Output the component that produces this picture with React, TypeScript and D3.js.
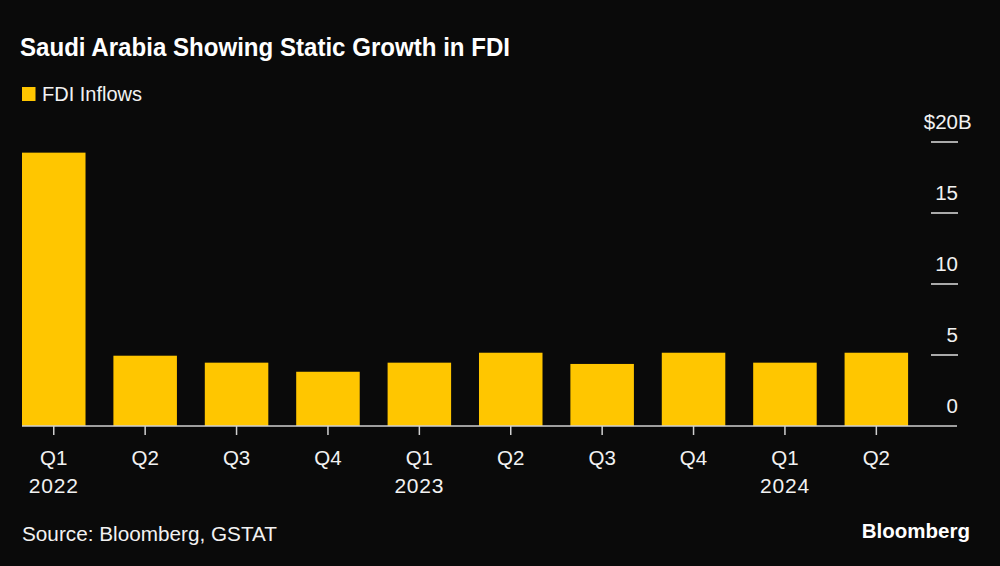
import React from "react";
import * as d3 from "d3";

const quarters = ["Q1", "Q2", "Q3", "Q4", "Q1", "Q2", "Q3", "Q4", "Q1", "Q2"];
const years = ["2022", "", "", "", "2023", "", "", "", "2024", ""];
const fdiInflows = [19.25, 4.95, 4.46, 3.82, 4.46, 5.16, 4.37, 5.16, 4.46, 5.16];
const yTicks = [0, 5, 10, 15, 20];

const W = 1000;
const H = 566;
const BG = "#0a0a0a";
const BAR = "#ffc600";
const TEXT = "#f2f2f2";
const FONT = "'Liberation Sans', Arial, Helvetica, sans-serif";

export default function App() {
  const ids = quarters.map((q, i) => `${q}-${i}`);
  const x = d3.scaleBand<string>().domain(ids).range([22, 908.1]).paddingInner(0.305).paddingOuter(0);
  const y = d3.scaleLinear().domain([0, 20]).range([426, 142]);

  return (
    <div style={{ position: "fixed", left: 0, top: 0 }}>
      <svg width={W} height={H} style={{ display: "block", background: BG }} fontFamily={FONT}>
        <rect width={W} height={H} fill={BG} />
        <text x={20} y={56} fill="#ffffff" fontSize={25} fontWeight={700} textLength={490} lengthAdjust="spacingAndGlyphs">
          Saudi Arabia Showing Static Growth in FDI
        </text>
        <rect x={22} y={87} width={13.5} height={14} fill={BAR} />
        <text x={42} y={101} fill={TEXT} fontSize={20}>FDI Inflows</text>

        {fdiInflows.map((v, i) => (
          <rect key={ids[i]} x={x(ids[i])} y={y(v)} width={x.bandwidth()} height={y(0) - y(v)} fill={BAR} />
        ))}

        <line x1={22} x2={957} y1={y(0)} y2={y(0)} stroke="#d0d0d0" strokeWidth={1.5} />

        {yTicks.map((t) => (
          <g key={t}>
            {t > 0 && <line x1={931} x2={958} y1={y(t)} y2={y(t)} stroke="#e0e0e0" strokeWidth={1.5} />}
            <text x={958} y={y(t) - 13} fill={TEXT} fontSize={20.5} textAnchor="end">
              {t === 20 ? "$20" : String(t)}
            </text>
            {t === 20 && (
              <text x={958} y={y(t) - 13} fill={TEXT} fontSize={20.5}>B</text>
            )}
          </g>
        ))}

        {ids.map((id, i) => {
          const cx = (x(id) as number) + x.bandwidth() / 2;
          return (
            <g key={id}>
              <line x1={cx} x2={cx} y1={y(0)} y2={y(0) + 9} stroke="#d0d0d0" strokeWidth={1.5} />
              <text x={cx} y={465} fill={TEXT} fontSize={20.5} textAnchor="middle">{quarters[i]}</text>
              {years[i] && (
                <text x={cx} y={493} fill={TEXT} fontSize={21} letterSpacing={0.8} textAnchor="middle">{years[i]}</text>
              )}
            </g>
          );
        })}

        <text x={22} y={541} fill={TEXT} fontSize={20} textLength={255} lengthAdjust="spacingAndGlyphs">Source: Bloomberg, GSTAT</text>
        <text x={970} y={538} fill="#ffffff" fontSize={20.5} fontWeight={700} textAnchor="end">Bloomberg</text>
      </svg>
    </div>
  );
}
